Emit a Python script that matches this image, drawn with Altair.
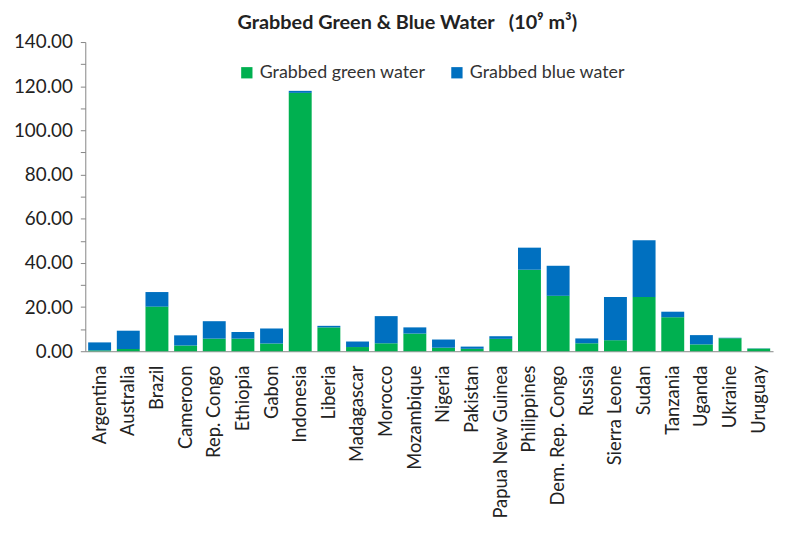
import altair as alt
import pandas as pd

countries = ["Argentina", "Australia", "Brazil", "Cameroon", "Rep. Congo", "Ethiopia",
             "Gabon", "Indonesia", "Liberia", "Madagascar", "Morocco", "Mozambique",
             "Nigeria", "Pakistan", "Papua New Guinea", "Philippines", "Dem. Rep. Congo",
             "Russia", "Sierra Leone", "Sudan", "Tanzania", "Uganda", "Ukraine", "Uruguay"]
green = [0.4, 1.0, 20.2, 2.6, 5.7, 5.7, 3.5, 117.0, 10.8, 1.9, 3.6, 8.0,
         1.6, 1.1, 5.6, 36.9, 25.1, 3.6, 5.0, 24.6, 15.4, 3.1, 5.9, 1.2]
blue = [3.6, 8.3, 6.6, 4.6, 7.9, 3.0, 6.8, 0.9, 0.7, 2.5, 12.3, 2.8,
        3.7, 1.0, 1.2, 10.0, 13.6, 2.2, 19.6, 25.6, 2.5, 4.2, 0.2, 0.1]
series = ["Grabbed green water", "Grabbed blue water"]
colors = ["#00B050", "#0070C0"]

rows = []
for c, g, b in zip(countries, green, blue):
    rows.append({"country": c, "series": series[0], "value": g, "ord": 0})
    rows.append({"country": c, "series": series[1], "value": b, "ord": 1})
df = pd.DataFrame(rows)

FONT = "Lato"
NB = "\u00a0"

chart = alt.Chart(df).mark_bar().encode(
    x=alt.X("country:N", sort=countries, title=None,
            scale=alt.Scale(paddingInner=0.2, paddingOuter=0.1),
            axis=alt.Axis(labelAngle=-90, labelFontSize=18.5, labelColor="#222222",
                          labelFont=FONT, ticks=False, domainColor="#868686",
                          labelPadding=14, labelLimit=300)),
    y=alt.Y("value:Q", stack="zero", title=None,
            scale=alt.Scale(domain=[0, 140], nice=False),
            axis=alt.Axis(values=list(range(0, 141, 10)), format=".2f",
                          labelExpr="datum.value % 20 == 0 ? format(datum.value, '.2f') : ''",
                          labelFontSize=19, labelFont=FONT, labelColor="#222222",
                          grid=False, tickSize=5, tickColor="#868686",
                          domainColor="#868686", labelPadding=8)),
    color=alt.Color("series:N", scale=alt.Scale(domain=series, range=colors),
                    legend=alt.Legend(title=None, orient="none", direction="horizontal",
                                      legendX=154, legendY=22, symbolType="square",
                                      symbolSize=130, symbolStrokeWidth=0,
                                      labelFontSize=18, labelFont=FONT,
                                      labelColor="#333333", columnPadding=22,
                                      labelLimit=300, symbolOpacity=1)),
    order=alt.Order("ord:Q"),
).properties(
    width=694, height=312,
    padding={"top": 3, "left": 5, "right": 5, "bottom": 5},
    title=alt.TitleParams(f"Grabbed Green & Blue Water{NB}{NB}{NB}(10⁹ m³)", fontSize=20,
                          font=FONT, fontWeight="bold", color="#222222",
                          offset=0, dx=-22),
).configure_view(stroke=None).configure_axis(domainWidth=1)

chart.save("out.html", embed_options={"renderer": "svg", "actions": False})
